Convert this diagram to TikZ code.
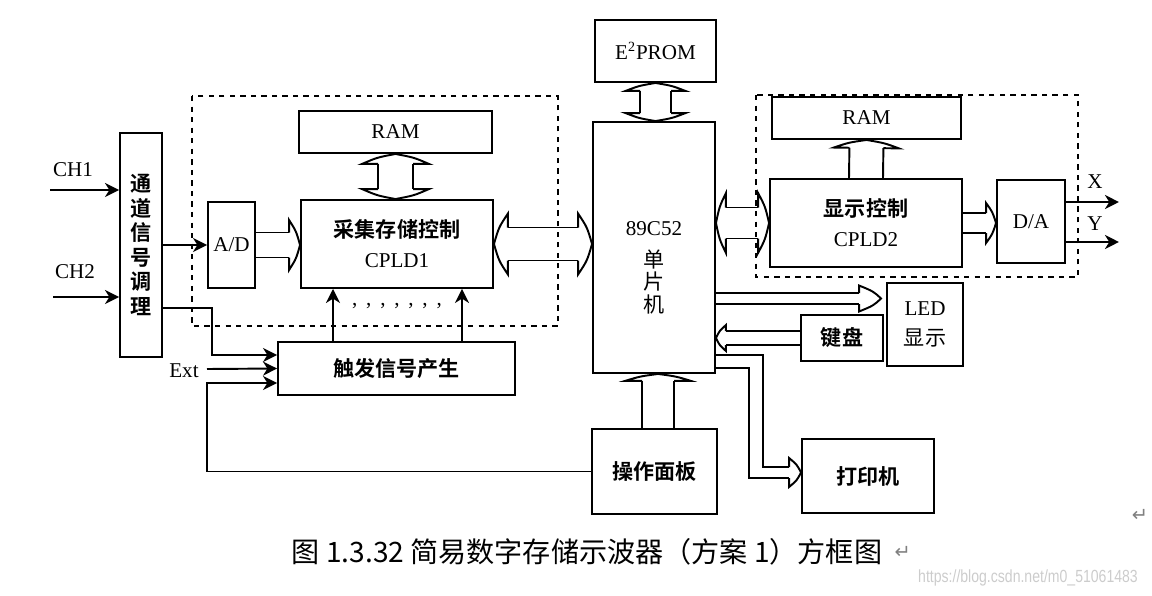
\documentclass[tikz,border=0pt]{standalone}
\usepackage{fontspec}
\setmainfont{Liberation Serif}
\newfontfamily\cjk{Noto Sans CJK SC}[BoldFont={Noto Sans CJK SC Bold}]
\newfontfamily\symb{DejaVu Sans}
\newfontfamily\wmfont{Liberation Sans}[FakeStretch=0.8]
\usetikzlibrary{arrows.meta,positioning,calc}

% hollow bus head: tip, angle, half width, head half width, head length
\newcommand\bushead[5]{%
  \draw[busline, shift={(#1)}, rotate=#2] (-#5,#3) -- (-#5,#4)
    .. controls (-0.35*#5,0.55*#4) .. (0,0)
    .. controls (-0.35*#5,-0.55*#4) .. (-#5,-#4) -- (-#5,-#3);}
% bus: from, to, half width, head half width, head length at end, head length at start (0pt = none)
\newcommand\busarrow[6]{%
  \path let \p1=($(#2)-(#1)$), \n1={atan2(\y1,\x1)}, \n2={veclen(\x1,\y1)} in
    \pgfextra{\xdef\busang{\n1}\xdef\buslen{\n2}};
  \draw[busline, shift={(#1)}, rotate=\busang]
    (#6,#3) -- (\buslen-#5,#3) (#6,-#3) -- (\buslen-#5,-#3);
  \bushead{#2}{\busang}{#3}{#4}{#5}
  \ifdim#6>0pt \bushead{#1}{\busang+180}{#3}{#4}{#6}\fi}

\begin{document}
\begin{tikzpicture}[
    x=0.02cm, y=-0.02cm,
    box/.style={draw, line width=1.1pt, align=center, inner sep=0pt, font=\fontsize{12}{17}\selectfont},
    cnb/.style={font=\cjk\bfseries\fontsize{12}{14}\selectfont},
    group/.style={dashed, line width=0.7pt},
    sig/.style={line width=1.1pt, -{Stealth[length=8pt,width=8pt,inset=2.5pt]}},
    busline/.style={line width=1.1pt, line join=miter},
    lbl/.style={font=\fontsize{12}{14}\selectfont}
]
\useasboundingbox (0,0) rectangle (1152,595);

% dashed groups
\draw[group] (192,96) rectangle (558,326);
\draw[group] (756,95) rectangle (1078,277);

% blocks
\node[box, cnb, minimum width=0.84cm, minimum height=4.48cm] (chan) at (141,245) {通\\道\\信\\号\\调\\理};
\node[box, minimum width=0.94cm, minimum height=1.72cm] (ad) at (231.5,245) {A/D};
\node[box, minimum width=3.86cm, minimum height=0.84cm] (ram1) at (395.5,132) {RAM};
\node[box, minimum width=3.84cm, minimum height=1.76cm] (cpld1) at (397,244) {{\cjk\bfseries 采集存储控制}\\CPLD1};
\node[box, cnb, minimum width=4.74cm, minimum height=1.06cm] (trig) at (396.5,368.5) {触发信号产生};
\node[box, minimum width=2.44cm, minimum height=5.02cm] (mcu) at (654,247.5) {};
\node[align=center, font=\fontsize{12}{13}\selectfont] (mcutxt) at (654,268) {89C52\\[5pt]{\cjk 单}\\{\cjk 片}\\{\cjk 机}};
\node[box, minimum width=2.42cm, minimum height=1.24cm] (eprom) at (655.5,51) {E\textsuperscript{2}PROM};
\node[box, minimum width=3.78cm, minimum height=0.84cm] (ram2) at (866.5,118) {RAM};
\node[box, minimum width=3.84cm, minimum height=1.76cm] (cpld2) at (866,223) {{\cjk\bfseries 显示控制}\\CPLD2};
\node[box, minimum width=1.36cm, minimum height=1.66cm] (da) at (1031,221.5) {D/A};
\node[box, minimum width=1.52cm, minimum height=1.66cm] (led) at (925,324.5) {LED\\{\cjk 显示}};
\node[box, cnb, minimum width=1.64cm, minimum height=0.92cm] (key) at (842,338) {键盘};
\node[box, cnb, minimum width=2.5cm, minimum height=1.7cm] (panel) at (654.5,471.5) {操作面板};
\node[box, cnb, minimum width=2.64cm, minimum height=1.48cm] (prn) at (868,476) {打印机};

% inputs and outputs
\coordinate (ch1) at (50,190);
\coordinate (ch2) at (53,297);
\coordinate (ext) at (207,369);
\node[lbl] (ch1lbl) at (73,170) {CH1};
\node[lbl] (ch2lbl) at (75,272) {CH2};
\node[lbl] (extlbl) at (184,371) {Ext};
\draw[sig] (ch1) -- (ch1 -| chan.west);
\draw[sig] (ch2) -- (ch2 -| chan.west);
\draw[sig] (chan.east) -- (ad.west);
\draw[sig] ([yshift=-1.26cm]chan.east) -- ++(49,0) |- ([yshift=0.27cm]trig.west);
\draw[sig] (ext) -- (trig.west);
\draw[sig] (panel.west) -- ++(-384,0) |- ([yshift=-0.29cm]trig.west);
\draw[sig] ([xshift=-1.27cm]trig.north) -- ([xshift=-1.27cm]trig.north |- cpld1.south);
\draw[sig] ([xshift=1.31cm]trig.north) -- ([xshift=1.31cm]trig.north |- cpld1.south);
\node[font=\fontsize{12}{14}\selectfont] (dots) at (397,306) {,\hspace{5pt},\hspace{5pt},\hspace{5pt},\hspace{5pt},\hspace{5pt},\hspace{5pt},};
\draw[sig] ([yshift=0.39cm]da.east) -- ++(53,0) coordinate (xout);
\draw[sig] ([yshift=-0.41cm]da.east) -- ++(53,0) coordinate (yout);
\node[lbl] (xlbl) at (1095,182) {X};
\node[lbl] (ylbl) at (1095,224) {Y};

% buses
\coordinate (adto) at (ad.east -| cpld1.west);
\coordinate (ram1to) at (ram1.south |- cpld1.north);
\coordinate (cpld1to) at (cpld1.east -| mcu.west);
\coordinate (epromto) at (eprom.south |- mcu.north);
\coordinate (mcuout) at (mcu.east |- cpld2.west);
\coordinate (cpld2to) at (cpld2.east -| da.west);
\coordinate (ledin) at ([xshift=-0.1cm,yshift=0.52cm]led.west);
\coordinate (ledfrom) at (mcu.east |- ledin);
\coordinate (keyto) at (key.west -| mcu.east);
\coordinate (pnl) at ([xshift=0.07cm]panel.north);
\coordinate (pnlto) at (pnl |- mcu.south);
\coordinate (pin) at ([yshift=0.07cm]prn.west);
\busarrow{ad.east}{adto}{0.25cm}{0.5cm}{0.22cm}{0pt}
\busarrow{ram1.south}{ram1to}{0.35cm}{0.67cm}{0.2cm}{0.2cm}
\busarrow{cpld1.east}{cpld1to}{0.33cm}{0.61cm}{0.28cm}{0.28cm}
\busarrow{eprom.south}{epromto}{0.31cm}{0.6cm}{0.16cm}{0.16cm}
\busarrow{mcuout}{cpld2.west}{0.31cm}{0.6cm}{0.22cm}{0.2cm}
\busarrow{cpld2.north}{ram2.south}{0.34cm}{0.65cm}{0.16cm}{0pt}
\busarrow{cpld2.east}{cpld2to}{0.2cm}{0.4cm}{0.2cm}{0pt}
\busarrow{ledfrom}{ledin}{0.11cm}{0.26cm}{0.44cm}{0pt}
\busarrow{key.west}{keyto}{0.14cm}{0.26cm}{0.2cm}{0pt}
\busarrow{pnl}{pnlto}{0.32cm}{0.66cm}{0.14cm}{0pt}
\draw[busline] ([yshift=-2.15cm]mcu.east) -- ++(47,0) |- ([xshift=-0.24cm,yshift=0.11cm]pin);
\draw[busline] ([yshift=-2.41cm]mcu.east) -- ++(33,0) |- ([xshift=-0.24cm,yshift=-0.11cm]pin);
\bushead{pin}{0}{0.11cm}{0.29cm}{0.24cm}

% caption
\node[font=\cjk\fontsize{16}{18}\selectfont] (cap) at (587,552) {图 1.3.32 简易数字存储示波器（方案 1）方框图};
\node[font=\symb\fontsize{11}{12}\selectfont, text=gray, right=0pt of cap] (ret1) {↵};
\node[font=\symb\fontsize{11}{12}\selectfont, text=gray] (ret2) at (1140,515) {↵};
\node[font=\wmfont\fontsize{10}{12}\selectfont, text=black!20, anchor=east] (wm) at (1144,578) {https://blog.csdn.net/m0\_51061483};
\end{tikzpicture}
\end{document}
